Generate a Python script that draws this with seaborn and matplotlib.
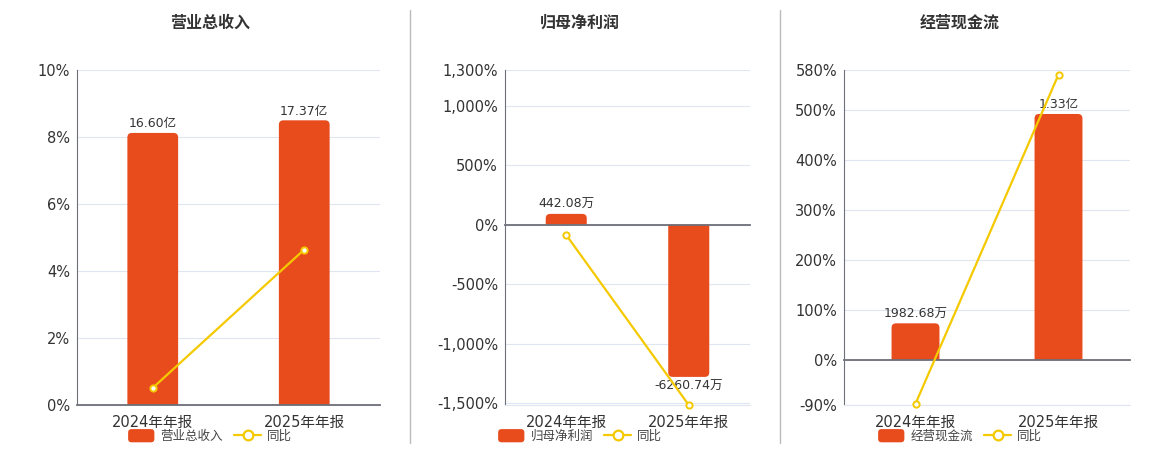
import matplotlib
matplotlib.use("Agg")
import matplotlib.pyplot as plt
import pandas as pd
import seaborn as sns
from matplotlib.patches import FancyBboxPatch, Patch, PathPatch
from matplotlib.path import Path
from matplotlib.lines import Line2D
from matplotlib.ticker import FixedLocator
from matplotlib.legend_handler import HandlerPatch

# 数据
periods = ['2024年年报', '2025年年报']
titles = ['营业总收入', '归母净利润', '经营现金流']

revenue = [16.60, 17.37]            # 亿
revenue_text = ['16.60亿', '17.37亿']
revenue_yoy = [0.51, 4.64]          # %

profit = [442.08, -6260.74]         # 万
profit_text = ['442.08万', '-6260.74万']
profit_yoy = [-87.0, -1516.2]

cashflow = [1982.68, 13300.0]       # 万
cashflow_text = ['1982.68万', '1.33亿']
cashflow_yoy = [-87.5, 570.8]

revenue_ticks = [0, 2, 4, 6, 8, 10]
profit_ticks = [-1500, -1000, -500, 0, 500, 1000, 1300]
cashflow_ticks = [-90, 0, 100, 200, 300, 400, 500, 580]

# 样式
W, H = 1160, 450
BAR_C = '#E84C1D'
LINE_C = '#F5C900'
AXIS_C = '#6E7079'
GRID_C = '#E0E6F1'
TEXT_C = '#333333'

sns.set_style("white")
plt.rcParams['font.family'] = ['DejaVu Sans', 'Noto Sans CJK SC']
plt.rcParams['axes.unicode_minus'] = False

# 每个面板: 标题, 数据, 坐标轴像素范围, 柱子隐藏轴比例(单位/百分点)
panels = [
    dict(title=titles[0], values=revenue, text=revenue_text, yoy=revenue_yoy,
         ticks=revenue_ticks, scale=2.044, x0=77, x1=380, cx=210),
    dict(title=titles[1], values=profit, text=profit_text, yoy=profit_yoy,
         ticks=profit_ticks, scale=4.891, x0=505, x1=750, cx=580),
    dict(title=titles[2], values=cashflow, text=cashflow_text, yoy=cashflow_yoy,
         ticks=cashflow_ticks, scale=27.03, x0=844, x1=1130, cx=960),
]


def rounded_handle(legend, orig_handle, xdescent, ydescent, width, height, fontsize):
    return FancyBboxPatch((-xdescent, -ydescent), width, height,
                          boxstyle='round,pad=0,rounding_size=2.5')


def round_bars(ax_b, radius_px):
    """把柱子远离零线的两个角改成圆角"""
    x0, x1 = ax_b.get_xlim()
    y0, y1 = ax_b.get_ylim()
    rx = radius_px * (x1 - x0) / ax_b.bbox.width
    ry_unit = radius_px * (y1 - y0) / ax_b.bbox.height
    for bar in list(ax_b.patches):
        x, w = bar.get_x(), bar.get_width()
        base, h = bar.get_y(), bar.get_height()
        end = base + h
        ry = min(ry_unit, abs(h) / 2) * (1 if h >= 0 else -1)
        verts = [(x, base), (x, end - ry), (x, end), (x + rx, end),
                 (x + w - rx, end), (x + w, end), (x + w, end - ry),
                 (x + w, base), (x, base)]
        codes = [Path.MOVETO, Path.LINETO, Path.CURVE3, Path.CURVE3,
                 Path.LINETO, Path.CURVE3, Path.CURVE3, Path.LINETO, Path.CLOSEPOLY]
        ax_b.add_patch(PathPatch(Path(verts, codes), facecolor=BAR_C,
                                 edgecolor='none', zorder=bar.get_zorder()))
        bar.set_visible(False)


fig = plt.figure(figsize=(W / 100, H / 100), dpi=100)

for p in panels:
    ax = fig.add_axes([p['x0'] / W, 1 - 405 / H, (p['x1'] - p['x0']) / W, 335 / H])
    ax_b = ax.twinx()
    ax_l = ax.twinx()

    df = pd.DataFrame({'period': periods, 'value': p['values'], 'yoy': p['yoy']})

    sns.barplot(data=df, x='period', y='value', ax=ax_b, color=BAR_C,
                width=0.335, saturation=1, errorbar=None, linewidth=0)
    sns.pointplot(data=df, x='period', y='yoy', ax=ax_l, color=LINE_C,
                  errorbar=None, markers='o', linewidth=1.6, markersize=4.5,
                  markeredgewidth=1.4, markerfacecolor='white', clip_on=False)

    lo, hi = min(p['ticks'][0], min(p['yoy'])), p['ticks'][-1]
    ax.set_ylim(lo, hi)
    ax_l.set_ylim(lo, hi)
    ax_b.set_ylim(lo * p['scale'], hi * p['scale'])
    ax.set_xlim(-0.5, 1.5)

    # 主轴: 百分比刻度与网格
    ax.set_yticks(p['ticks'])
    ax.set_yticklabels([f'{t:,}%' for t in p['ticks']])
    ax.grid(axis='y', color=GRID_C, lw=0.8)
    ax.grid(axis='x', visible=False)
    ax.tick_params(axis='y', length=0, pad=5, labelsize=10.5, labelcolor=TEXT_C)
    ax.tick_params(axis='x', which='major', length=0, pad=7, labelsize=10.5, labelcolor=TEXT_C)
    ax.tick_params(axis='x', which='minor', length=0)
    for s in ['top', 'right']:
        ax.spines[s].set_visible(False)
    ax.spines['left'].set_color(AXIS_C)
    ax.spines['bottom'].set_color(GRID_C)
    ax.set_xlabel('')
    ax.set_ylabel('')

    # 柱子轴: 零线与分类刻度
    ax_b.xaxis.set_visible(True)
    ax_b.xaxis.set_minor_locator(FixedLocator([-0.5, 0.5, 1.5]))
    ax_b.tick_params(axis='x', which='major', length=0, labelbottom=False)
    ax_b.tick_params(axis='x', which='minor', length=4, width=1, color=AXIS_C, direction='out')
    for s in ['top', 'right', 'left']:
        ax_b.spines[s].set_visible(False)
    ax_b.spines['bottom'].set_position(('data', 0))
    ax_b.spines['bottom'].set_color(AXIS_C)
    ax_b.spines['bottom'].set_linewidth(1.3)
    ax_b.spines['bottom'].set_zorder(5)
    ax_b.set_yticks([])
    ax_b.set_xlabel('')
    ax_b.set_ylabel('')

    ax_b.bar_label(ax_b.containers[0], labels=p['text'], padding=2, fontsize=9, color=TEXT_C)
    round_bars(ax_b, 4.5)

    # 折线轴
    for s in ax_l.spines.values():
        s.set_visible(False)
    ax_l.set_yticks([])
    ax_l.set_ylabel('')

    fig.text(p['cx'] / W, 1 - 23 / H, p['title'], ha='center', va='center',
             fontsize=11.5, fontweight='bold', color=TEXT_C)

    handles = [Patch(facecolor=BAR_C, edgecolor='none', label=p['title']),
               Line2D([], [], color=LINE_C, lw=1.6, marker='o', markersize=7,
                      markerfacecolor='white', markeredgewidth=1.6, label='同比')]
    fig.legend(handles=handles, loc='center', bbox_to_anchor=(p['cx'] / W, 1 - 436 / H),
               ncol=2, frameon=False, fontsize=9, handlelength=2.1, handleheight=1.25,
               handletextpad=0.5, columnspacing=0.9, labelcolor='#444444',
               handler_map={Patch: HandlerPatch(patch_func=rounded_handle)})

# 面板分隔线
for xs in [410, 780]:
    fig.add_artist(Line2D([xs / W, xs / W], [1 - 10 / H, 1 - 443 / H],
                          transform=fig.transFigure, color='#BBBBBB', lw=1))

fig.savefig('out.png', dpi=100)
